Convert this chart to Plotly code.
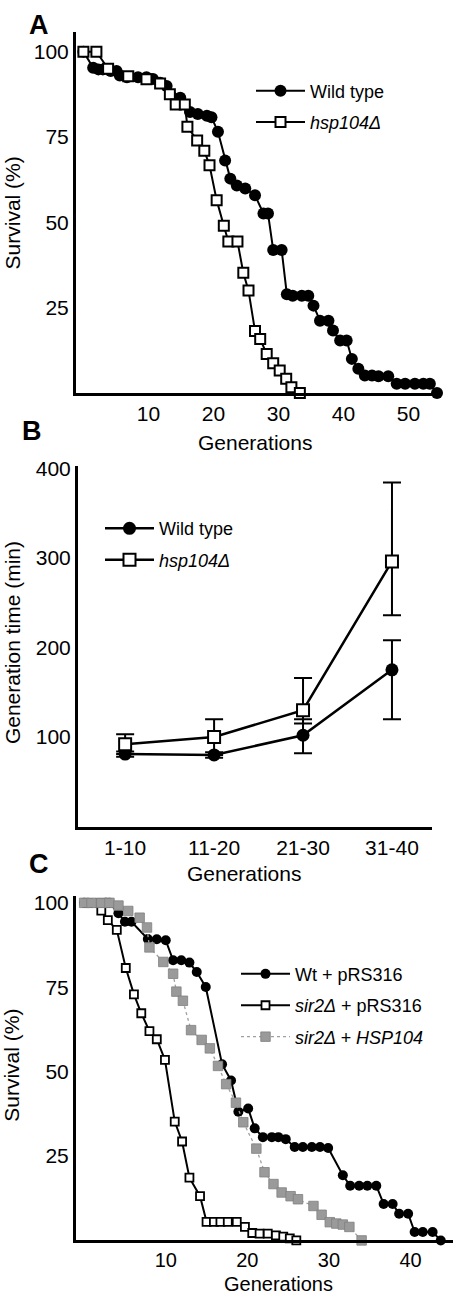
import plotly.graph_objects as go

W, H = 458, 1296
FONT = "Liberation Sans, Arial, Helvetica, sans-serif"

# ---------------- Panel A data ----------------
a_names = ["Wild type", "<i>hsp104Δ</i>"]
a_wt_gen = [0, 1.5, 2.3, 3.0, 4.2, 5.1, 5.6, 6.7, 8.4, 9.7, 10.7, 11.8, 12.8, 14.9, 16.4,
            17.6, 19.0, 19.7, 20.7, 21.8, 22.6, 23.6, 24.9, 26.4, 27.7, 28.4, 29.2, 30.5,
            31.3, 32.2, 33.6, 34.6, 35.4, 36.4, 37.7, 38.4, 39.5, 40.5, 41.3, 42.3, 43.3,
            44.4, 45.4, 46.9, 48.2, 49.5, 51.0, 52.3, 53.3, 54.4]
a_wt_surv = [100, 95.3, 94.8, 94.8, 94.3, 94.3, 93.0, 92.5, 92.5, 92.5, 92.0, 90.9, 89.9, 86.5,
             82.3, 81.7, 81.2, 80.8, 76.5, 68.1, 62.8, 60.8, 59.9, 57.9, 52.6, 52.6, 41.9,
             41.9, 28.9, 28.5, 28.5, 28.5, 25.6, 21.2, 21.2, 18.3, 15.4, 15.4, 10.0, 7.1,
             5.1, 5.1, 4.9, 4.9, 2.7, 2.7, 2.7, 2.7, 2.7, 0]
a_hsp_gen = [0, 2.0, 3.8, 6.9, 9.7, 11.8, 13.3, 14.2, 15.6, 16.0, 17.5, 18.6, 19.4, 20.5,
             21.6, 22.3, 23.7, 24.6, 25.4, 26.4, 27.2, 28.2, 29.2, 30.2, 31.2, 32.0, 33.3]
a_hsp_surv = [100, 100, 95.0, 92.8, 91.9, 90.7, 87.5, 84.5, 84.5, 78.0, 74.0, 71.0, 66.7, 56.5,
              49.0, 44.4, 44.4, 35.2, 30.0, 18.2, 15.8, 11.4, 8.7, 6.6, 4.2, 1.7, 0]
a_xticks = [10, 20, 30, 40, 50]
a_yticks = [25, 50, 75, 100]

# ---------------- Panel B data ----------------
b_names = ["Wild type", "<i>hsp104Δ</i>"]
b_categories = ["1-10", "11-20", "21-30", "31-40"]
b_wt = [81, 80, 102, 175]
b_wt_err_plus = [3, 3, 18, 33]
b_wt_err_minus = [3, 3, 20, 55]
b_hsp = [92, 100, 130, 296]
b_hsp_err_plus = [11, 20, 36, 88]
b_hsp_err_minus = [11, 20, 15, 60]
b_yticks = [100, 200, 300, 400]

# ---------------- Panel C data ----------------
c_names = ["Wt + pRS316", "<i>sir2Δ</i> + pRS316", "<i>sir2Δ + HSP104</i>"]
c_wt_gen = [0, 2.7, 3.1, 4.2, 5.0, 5.8, 7.8, 8.9, 10.0, 10.9, 11.9, 12.9, 13.8, 14.9, 16.9,
            18.0, 18.9, 20.1, 20.9, 21.9, 23.0, 23.8, 24.7, 25.8, 26.8, 27.9, 28.9, 29.9,
            31.7, 32.6, 33.7, 34.7, 35.8, 36.7, 37.8, 38.6, 39.7, 40.5, 41.5, 42.7, 43.7]
c_wt_surv = [100, 100, 100, 96.9, 94.4, 94.4, 89.3, 89.2, 88.9, 83.0, 83.0, 82.3, 79.5, 75.1,
             52.2, 47.4, 38.1, 39.1, 33.2, 30.6, 30.6, 30.6, 30.0, 27.7, 27.7, 27.7, 27.7,
             27.4, 19.3, 16.2, 16.2, 16.2, 16.2, 10.8, 10.8, 7.9, 7.9, 2.5, 2.5, 2.5, 0]
c_sir_gen = [0.5, 1.9, 2.1, 2.9, 4.0, 5.1, 6.1, 7.0, 8.0, 8.9, 9.9, 11.1, 12.0, 12.9, 14.2,
             15.0, 15.9, 16.7, 17.6, 18.7, 19.7, 20.6, 21.5, 22.5, 23.5, 24.4, 25.2, 26.0]
c_sir_surv = [100, 100, 97.7, 94.9, 92.0, 80.7, 72.9, 67.3, 62.0, 59.6, 53.5, 35.2, 29.3, 18.6,
              13.1, 5.5, 5.5, 5.5, 5.5, 5.5, 4.0, 2.2, 2.0, 2.0, 1.5, 1.1, 0.6, 0]
c_hsp_gen = [0, 0.9, 2.1, 3.1, 4.2, 5.4, 6.8, 7.7, 8.0, 9.7, 10.9, 11.3, 12.1, 13.1, 14.4,
             15.4, 16.4, 17.4, 18.6, 19.5, 21.1, 22.1, 23.2, 24.2, 25.3, 26.2, 28.1, 29.1,
             30.1, 30.9, 31.7, 32.5, 34.0]
c_hsp_surv = [100, 100, 100, 100, 99.2, 97.6, 95.6, 92.7, 86.8, 82.5, 79.0, 73.7, 71.0, 62.3,
              59.4, 56.9, 51.7, 46.3, 40.8, 35.0, 27.2, 20.2, 16.7, 14.2, 13.1, 12.2, 10.2,
              7.6, 5.4, 5.0, 4.7, 4.0, 0]
c_xticks = [10, 20, 30, 40]
c_yticks = [25, 50, 75, 100]


def px_x(v):
    return v / W


def px_y(v):
    return 1 - v / H


fig = go.Figure()

# Panel A traces
fig.add_trace(go.Scatter(x=a_wt_gen, y=a_wt_surv, name=a_names[0], mode="lines+markers",
                         line=dict(color="black", width=2),
                         marker=dict(symbol="circle", size=12, color="black"),
                         xaxis="x", yaxis="y", legend="legend", legendgroup="a1",
                         cliponaxis=False))
fig.add_trace(go.Scatter(x=a_hsp_gen, y=a_hsp_surv, name=a_names[1], mode="lines+markers",
                         line=dict(color="black", width=2),
                         marker=dict(symbol="square", size=10, color="white",
                                     line=dict(color="black", width=2)),
                         xaxis="x", yaxis="y", legend="legend", legendgroup="a2",
                         cliponaxis=False))

# Panel B traces
fig.add_trace(go.Scatter(x=b_categories, y=b_wt, name=b_names[0], mode="lines+markers",
                         line=dict(color="black", width=2.5),
                         marker=dict(symbol="circle", size=13, color="black"),
                         error_y=dict(type="data", symmetric=False, array=b_wt_err_plus,
                                      arrayminus=b_wt_err_minus, color="black",
                                      thickness=2, width=9),
                         xaxis="x2", yaxis="y2", legend="legend2", legendgroup="b1",
                         cliponaxis=False))
fig.add_trace(go.Scatter(x=b_categories, y=b_hsp, name=b_names[1], mode="lines+markers",
                         line=dict(color="black", width=2.5),
                         marker=dict(symbol="square", size=12, color="white",
                                     line=dict(color="black", width=2)),
                         error_y=dict(type="data", symmetric=False, array=b_hsp_err_plus,
                                      arrayminus=b_hsp_err_minus, color="black",
                                      thickness=2, width=9),
                         xaxis="x2", yaxis="y2", legend="legend2", legendgroup="b2",
                         cliponaxis=False))

# Panel C traces
fig.add_trace(go.Scatter(x=c_wt_gen, y=c_wt_surv, name=c_names[0], mode="lines+markers",
                         line=dict(color="black", width=2),
                         marker=dict(symbol="circle", size=10, color="black"),
                         xaxis="x3", yaxis="y3", legend="legend3", legendgroup="c1",
                         cliponaxis=False))
fig.add_trace(go.Scatter(x=c_sir_gen, y=c_sir_surv, name=c_names[1], mode="lines+markers",
                         line=dict(color="black", width=2),
                         marker=dict(symbol="square", size=8, color="white",
                                     line=dict(color="black", width=1.8)),
                         xaxis="x3", yaxis="y3", legend="legend3", legendgroup="c2",
                         cliponaxis=False))
fig.add_trace(go.Scatter(x=c_hsp_gen, y=c_hsp_surv, name=c_names[2], mode="lines+markers",
                         line=dict(color="#a0a0a0", width=1.3, dash="dot"),
                         marker=dict(symbol="square", size=9.5, color="#9a9a9a",
                                     line=dict(color="#808080", width=0.8)),
                         xaxis="x3", yaxis="y3", legend="legend3", legendgroup="c3",
                         cliponaxis=False))

tickfont = dict(family=FONT, size=21, color="black")


def xaxis_cfg(domain, rng, standoff=0, font=tickfont, **kw):
    d = dict(domain=domain, range=rng, showline=True, linecolor="black", linewidth=3,
             showgrid=False, zeroline=False, ticks="", tickfont=font,
             ticklabelstandoff=standoff)
    d.update(kw)
    return d


def yaxis_cfg(domain, rng, anchor, tickvals):
    return dict(domain=domain, range=rng, anchor=anchor, showline=True, linecolor="black",
                linewidth=3, showgrid=False, zeroline=False, ticks="", tickfont=tickfont,
                tickvals=tickvals, ticklabelstandoff=0)


legend_common = dict(font=dict(family=FONT, size=18, color="black"), bgcolor="rgba(0,0,0,0)",
                     borderwidth=0, traceorder="grouped", tracegroupgap=5, itemwidth=49,
                     xanchor="left", yanchor="top")

fig.update_layout(
    width=W, height=H,
    margin=dict(l=0, r=0, t=0, b=0),
    paper_bgcolor="white", plot_bgcolor="white",
    showlegend=True,
    xaxis=xaxis_cfg([px_x(76), px_x(437)], [-1.14, 54.4], anchor="y", tickvals=a_xticks),
    yaxis=yaxis_cfg([px_y(386), px_y(22)], [0, 105.8], "x", a_yticks),
    xaxis2=xaxis_cfg([px_x(78), px_x(432)], [-0.53, 3.45], anchor="y2", type="category"),
    yaxis2=yaxis_cfg([px_y(823), px_y(460)], [0, 402], "x2", b_yticks),
    xaxis3=xaxis_cfg([px_x(76), px_x(453)], [-1.0, 45.2], anchor="y3", tickvals=c_xticks,
                     font=dict(family=FONT, size=20, color="black")),
    yaxis3=yaxis_cfg([px_y(1240), px_y(893)], [0, 102], "x3", c_yticks),
    legend=dict(x=px_x(251), y=px_y(63), **legend_common),
    legend2=dict(x=px_x(100), y=px_y(504), **legend_common),
    legend3=dict(x=px_x(236), y=px_y(953), **legend_common),
)

title_font = dict(family=FONT, size=21, color="black")
title_font_c = dict(family=FONT, size=20, color="black")
label_font = dict(family=FONT, size=27, color="black")
annotations = [
    ("<b>A</b>", 39, 15, label_font, 0),
    ("<b>B</b>", 32, 424, label_font, 0),
    ("<b>C</b>", 39, 861, label_font, 0),
    ("Survival (%)", 12, 205, title_font, -90),
    ("Generations", 255, 436, title_font, 0),
    ("Generation time (min)", 12, 638, title_font, -90),
    ("Generations", 244, 870, title_font, 0),
    ("Survival (%)", 12, 1064, title_font, -90),
    ("Generations", 278, 1284, title_font_c, 0),
]
for text, x, y, f, ang in annotations:
    fig.add_annotation(text=text, x=px_x(x), y=px_y(y), xref="paper", yref="paper",
                       showarrow=False, font=f, textangle=ang,
                       xanchor="center", yanchor="middle")

# Remove the default 8px page margin so the figure sits at the window origin.
fig.write_html("out.html",
               config={"displayModeBar": False},
               post_script="document.body.style.margin='0';document.documentElement.style.overflow='hidden';")
